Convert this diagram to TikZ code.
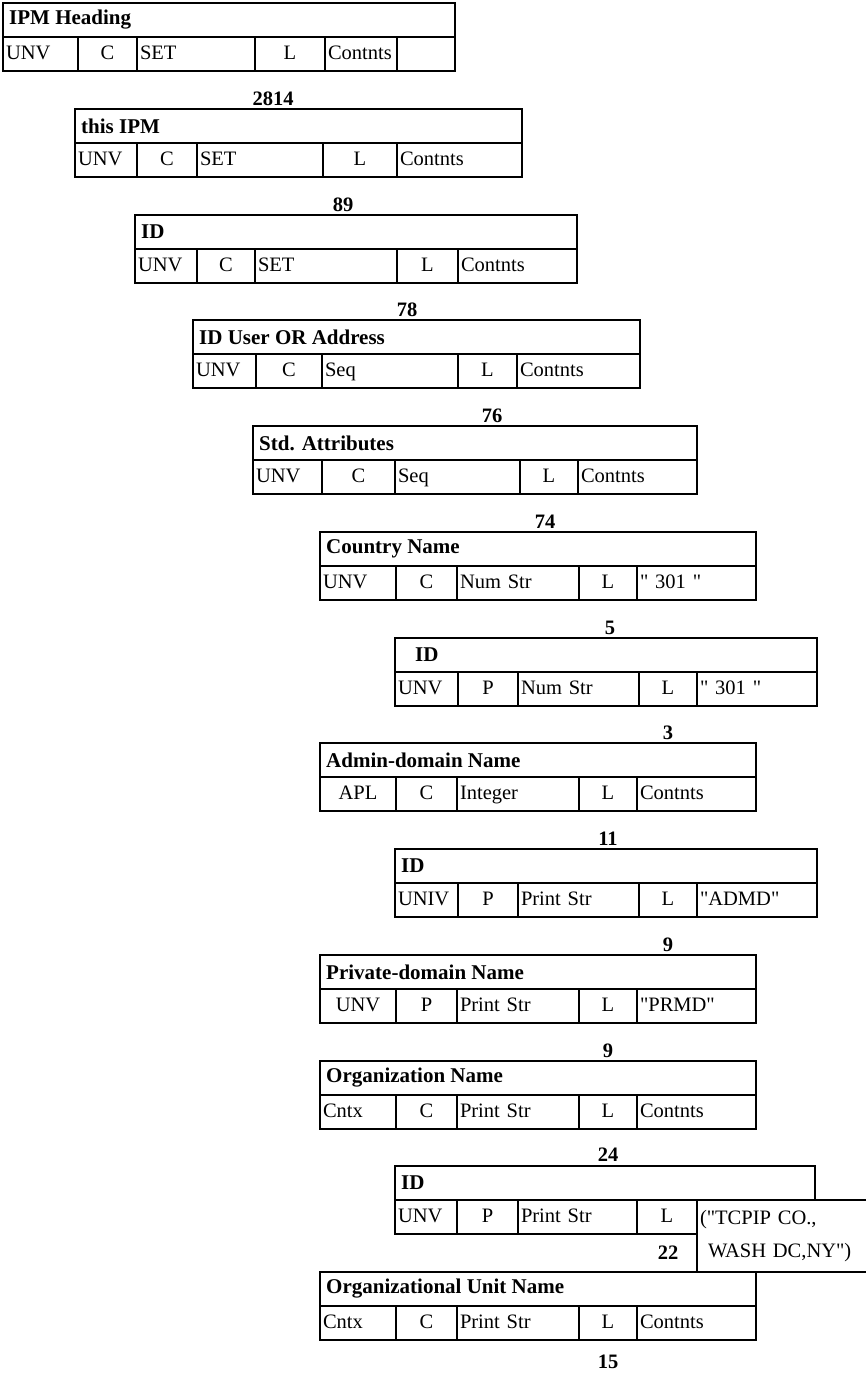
\documentclass[tikz,border=0pt]{standalone}
\usepackage{fontspec}
\setmainfont{Liberation Serif}
\newfontfamily\fieldfont{Liberation Serif}
\newcommand{\recfont}{\fontsize{20.5}{24}\selectfont}
\tikzset{
  frame/.style={draw=black,line width=2.4pt},
  cell/.style={draw=black,line width=1.8pt,minimum height=34pt,inner xsep=3pt,inner ysep=0pt,outer sep=0pt,
               text height=14pt,text depth=4pt,font=\recfont\fieldfont,anchor=north west},
  bigcell/.style={cell,line width=2.4pt,minimum height=72pt,text height=,text depth=,
                  font=\fontsize{20.5}{33}\selectfont\fieldfont},
  ttl/.style={font=\fontsize{21}{24}\selectfont\bfseries,anchor=west,inner sep=0pt},
  num/.style={font=\recfont\bfseries,inner sep=0pt}
}
% #1 name, #2 top, #3 left, #4 right, #5 title, #6 cells x0/x1/align/text
\newcommand{\pdurec}[6]{%
  \foreach \xl/\xr/\ca/\ct [count=\k] in {#6}{%
    \pgfmathsetmacro{\cw}{\xr-\xl-6}%
    \node[cell,text width=\cw pt,align/.expanded=\ca] (#1-\k) at (\xl,#2+34) {\ct};
  }%
  \draw[frame] (#3,#2) rectangle (#4,#2+68);
  \node[ttl] (#1-t) at (#3+6,#2+17) {#5};
}
\begin{document}
\begin{tikzpicture}[x=1pt,y=-1pt]
  \path[use as bounding box,fill=white] (0,0) rectangle (866,1376);

  \pdurec{b1}{3}{3}{455}{IPM Heading}{3/78/left/UNV,78/137/center/C,137/255/left/SET,255/325/center/L,325/397/left/Contnts,397/455/left/{}}
  \node[num] (n1) at (273,99) {2814};

  \pdurec{b2}{109}{75}{522}{this IPM}{75/137/left/UNV,137/197/center/C,197/323/left/SET,323/397/center/L,397/522/left/Contnts}
  \node[num] (n2) at (343,205) {89};

  \pdurec{b3}{215}{135}{577}{ID}{135/197/left/UNV,197/255/center/C,255/397/left/SET,397/458/center/L,458/577/left/Contnts}
  \node[num] (n3) at (407,310) {78};

  \pdurec{b4}{320}{193}{640}{ID User OR Address}{193/256/left/UNV,256/322/center/C,322/458/left/Seq,458/517/center/L,517/640/left/Contnts}
  \node[num] (n4) at (492,416) {76};

  \pdurec{b5}{426}{253}{697}{Std. Attributes}{253/322/left/UNV,322/395/center/C,395/520/left/Seq,520/578/center/L,578/697/left/Contnts}
  \node[num] (n5) at (545,522) {74};

  \pdurec{b6}{532}{320}{756}{Country Name}{320/396/left/UNV,396/457/center/C,457/579/left/Num Str,579/637/center/L,637/756/left/" 301 "}
  \node[num] (n6) at (610,628) {5};

  \pdurec{b7}{638}{395}{817}{\hspace*{14pt}ID}{395/458/left/UNV,458/518/center/P,518/639/left/Num Str,639/697/center/L,697/817/left/" 301 "}
  \node[num] (n7) at (668,733) {3};

  \pdurec{b8}{743}{320}{756}{Admin-domain Name}{320/396/center/APL,396/457/center/C,457/579/left/Integer,579/637/center/L,637/756/left/Contnts}
  \node[num] (n8) at (608,839) {11};

  \pdurec{b9}{849}{395}{817}{ID}{395/458/left/UNIV,458/518/center/P,518/639/left/Print Str,639/697/center/L,697/817/left/"ADMD"}
  \node[num] (n9) at (668,945) {9};

  \pdurec{b10}{955}{320}{756}{Private-domain Name}{320/396/center/UNV,396/457/center/P,457/579/left/Print Str,579/637/center/L,637/756/left/"PRMD"}
  \node[num] (n10) at (608,1051) {9};

  \pdurec{b11}{1061}{320}{756}{Organization Name}{320/396/left/Cntx,396/457/center/C,457/579/left/Print Str,579/637/center/L,637/756/left/Contnts}
  \node[num] (n11) at (608,1155) {24};

  % ID with the long value cell
  \foreach \xl/\xr/\ca/\ct [count=\k] in {395/457/left/UNV,457/518/center/P,518/637/left/Print Str,637/697/center/L}{%
    \pgfmathsetmacro{\cw}{\xr-\xl-6}%
    \node[cell,text width=\cw pt,align/.expanded=\ca] (b12-\k) at (\xl,1200) {\ct};
  }
  \draw[frame] (395,1166) rectangle (815,1200);
  \draw[frame] (395,1200) rectangle (697,1234);
  \node[ttl] (b12-t) at (401,1183) {ID};
  \node[bigcell,text width=194pt,align=left] (b12-5) at (697,1200) {("TCPIP CO.,\\\hspace*{8pt}WASH DC,NY")};
  \node[num] (n12) at (668,1253) {22};

  \pdurec{b13}{1272}{320}{756}{Organizational Unit Name}{320/396/left/Cntx,396/457/center/C,457/579/left/Print Str,579/637/center/L,637/756/left/Contnts}
  \node[num] (n13) at (608,1362) {15};
\end{tikzpicture}
\end{document}
